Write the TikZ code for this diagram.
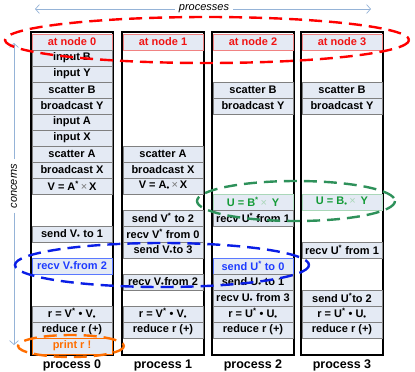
\documentclass[tikz,border=0pt]{standalone}
\usepackage{fontspec}
\setmainfont{Liberation Sans}
\usetikzlibrary{arrows.meta}
\definecolor{cellfill}{RGB}{228,234,244}
\definecolor{cellline}{RGB}{128,128,128}
\definecolor{headtext}{RGB}{240,20,20}
\definecolor{headline}{RGB}{240,130,130}
\definecolor{greentext}{RGB}{20,155,55}
\definecolor{greenline}{RGB}{170,215,185}
\definecolor{greenell}{RGB}{46,145,90}
\definecolor{bluetext}{RGB}{30,60,255}
\definecolor{blueline}{RGB}{90,120,255}
\definecolor{blueell}{RGB}{10,30,230}
\definecolor{orangetext}{RGB}{255,110,0}
\definecolor{orangeell}{RGB}{255,110,0}
\definecolor{redell}{RGB}{255,0,0}
\definecolor{axis}{RGB}{149,179,215}
\definecolor{timesgray}{RGB}{120,120,120}
\newcommand{\sups}{\textsuperscript{*}}
\newcommand{\subd}{\textsubscript{\textbullet}}
\newcommand{\tms}[1][timesgray]{{\mdseries\color{#1}\,×\,}}
\begin{document}
\begin{tikzpicture}[x=1bp,y=-1bp,
  cell/.style={draw=cellline,fill=cellfill,line width=0.8bp,minimum width=80bp,minimum height=16bp,inner sep=0pt,
    font=\bfseries\fontsize{11bp}{12bp}\selectfont,text=black},
  head/.style={cell,draw=headline,text=headtext},
  greencell/.style={cell,draw=greenline,text=greentext},
  bluecell/.style={cell,draw=blueline,text=bluetext},
  orangecell/.style={cell,draw=orangeell,text=orangetext},
  frame/.style={draw=black,line width=2bp},
  plabel/.style={font=\bfseries\fontsize{12.5bp}{14bp}\selectfont,inner sep=0pt},
  axislabel/.style={font=\itshape\fontsize{11bp}{12bp}\selectfont,inner sep=0pt},
  axisarrow/.style={draw=axis,line width=0.7bp,-{Straight Barb[length=4bp,width=9bp]}},
  ell/.style={line width=2.4bp,dash pattern=on 13bp off 7bp}
]
\useasboundingbox (0,0) rectangle (415,372);
% frames
\foreach \L/\n in {32/0,123/1,213/2,302/3}{
  \draw[frame,fill=white] (\L-1,32) rectangle (\L+81,355);
}
% process 0
\node[head] (h0) at (72,42) {at node 0};
\node[cell] (p0r1) at (72,58) {input B};
\node[cell] (p0r2) at (72,74) {input Y};
\node[cell] (p0r3) at (72,90) {scatter B};
\node[cell] (p0r4) at (72,106) {broadcast Y};
\node[cell] (p0r5) at (72,122) {input A};
\node[cell] (p0r6) at (72,138) {input X};
\node[cell] (p0r7) at (72,154) {scatter A};
\node[cell] (p0r8) at (72,170) {broadcast X};
\node[cell] (p0r9) at (72,186) {V = A\sups\tms X};
\node[cell] (p0r12) at (72,234) {send V\subd\ to 1};
\node[bluecell] (p0r14) at (72,266) {recv V\subd from 2};
\node[cell] (p0r17) at (72,314) {r = V\sups\ \textbullet\ V\subd};
\node[cell] (p0r18) at (72,330) {reduce r (+)};
\node[orangecell] (p0r19) at (72,346) {print r !};
% process 1
\node[head] (h1) at (163,42) {at node 1};
\node[cell] (p1r7) at (163,154) {scatter A};
\node[cell] (p1r8) at (163,170) {broadcast X};
\node[cell] (p1r9) at (163,186) {V = A\subd\tms X};
\node[cell] (p1r11) at (163,218) {send V\sups\ to 2};
\node[cell] (p1r12) at (163,234) {recv V\sups\ from 0};
\node[cell] (p1r13) at (163,250) {send V\subd to 3};
\node[cell] (p1r15) at (163,282) {recv V\subd from 2};
\node[cell] (p1r17) at (163,314) {r = V\sups\ \textbullet\ V\subd};
\node[cell] (p1r18) at (163,330) {reduce r (+)};
% process 2
\node[head] (h2) at (253,42) {at node 2};
\node[cell] (p2r3) at (253,90) {scatter B};
\node[cell] (p2r4) at (253,106) {broadcast Y};
\node[greencell] (p2r10) at (253,202) {U = B\sups\tms[greenline] Y};
\node[cell] (p2r11) at (253,218) {recv U\sups\ from 1};
\node[bluecell] (p2r14) at (253,266) {send U\sups\ to 0};
\node[cell] (p2r15) at (253,282) {send U\subd\ to 1};
\node[cell] (p2r16) at (253,298) {recv U\subd\ from 3};
\node[cell] (p2r17) at (253,314) {r = U\sups\ \textbullet\ U\subd};
\node[cell] (p2r18) at (253,330) {reduce r (+)};
% process 3
\node[head] (h3) at (342,42) {at node 3};
\node[cell] (p3r3) at (342,90) {scatter B};
\node[cell] (p3r4) at (342,106) {broadcast Y};
\node[greencell] (p3r10) at (342,202) {U = B\subd\tms[greenline] Y};
\node[cell] (p3r13) at (342,250) {recv U\sups\ from 1};
\node[cell] (p3r16) at (342,298) {send U\sups to 2};
\node[cell] (p3r17) at (342,314) {r = U\sups\ \textbullet\ U\subd};
\node[cell] (p3r18) at (342,330) {reduce r (+)};
% labels
\node[plabel] (l0) at (72,365) {process 0};
\node[plabel] (l1) at (163,365) {process 1};
\node[plabel] (l2) at (253,365) {process 2};
\node[plabel] (l3) at (342,365) {process 3};
% axes
\node[axislabel] (proc) at (204,9) {processes};
\coordinate (pl) at (35,9);
\coordinate (pr) at (371,9);
\draw[axisarrow] (proc.west) ++(-4,0) -- (pl);
\draw[axisarrow] (proc.east) ++(4,0) -- (pr);
\node[axislabel,rotate=90] (conc) at (14,186) {concerns};
\coordinate (ct) at (14,43);
\coordinate (cb) at (14,345);
\draw[axisarrow] (conc.east) ++(0,-4) -- (ct);
\draw[axisarrow] (conc.west) ++(0,4) -- (cb);
% ellipses
\draw[ell,redell] (207,40) ellipse [x radius=202,y radius=23];
\draw[ell,greenell] (296,201) ellipse [x radius=99,y radius=20];
\draw[ell,blueell] (162,265) ellipse [x radius=147,y radius=22];
\draw[ell,orangeell] (71,346) ellipse [x radius=53,y radius=11];
\end{tikzpicture}
\end{document}
